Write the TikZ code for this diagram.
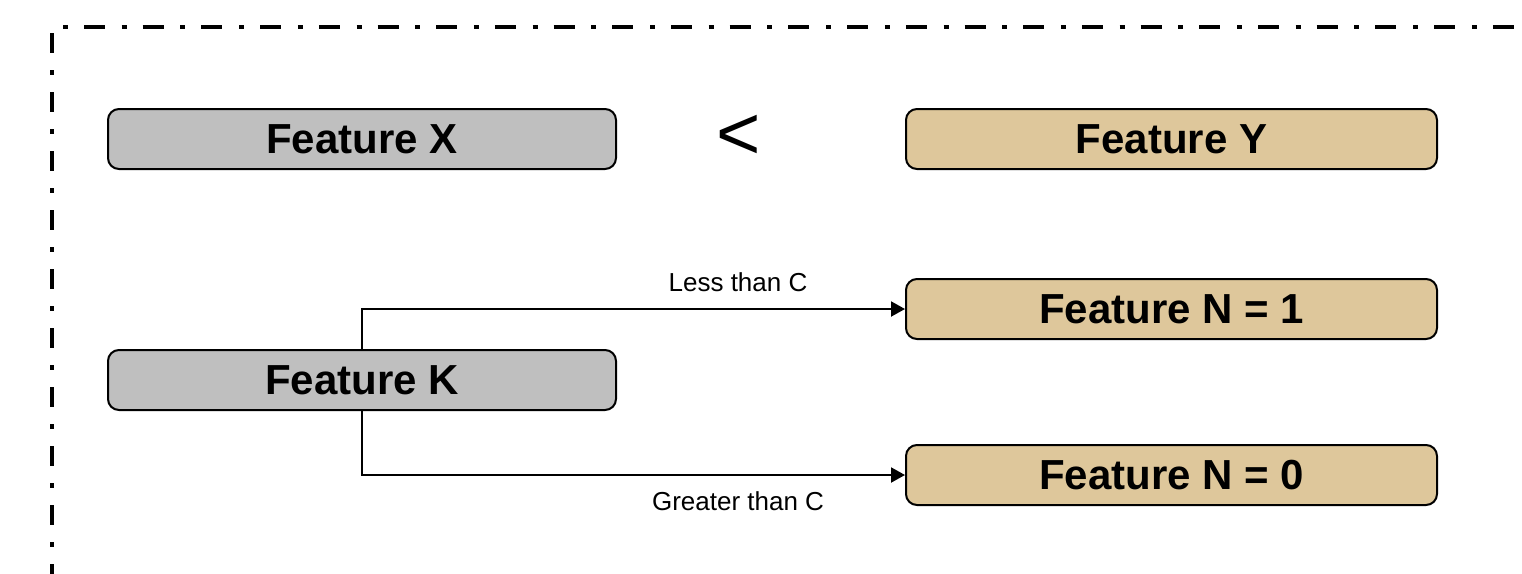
\documentclass[tikz,border=0pt]{standalone}
\usepackage{fontspec}
\setmainfont{Liberation Sans}
\usetikzlibrary{arrows.meta}
\definecolor{boxgray}{RGB}{191,191,191}
\definecolor{boxtan}{RGB}{222,199,155}
\begin{document}
\begin{tikzpicture}[x=1pt,y=-1pt,
  featbox/.style={draw=black, line width=2pt, rounded corners=11pt,
    minimum height=60pt, inner sep=0pt, text depth=-2pt,
    font=\fontsize{42}{48}\selectfont\bfseries},
  graybox/.style={featbox, fill=boxgray, minimum width=508pt},
  tanbox/.style={featbox, fill=boxtan, minimum width=531pt},
  link/.style={draw=black, line width=2pt,
    -{Triangle[length=14pt,width=15pt]}},
  edgelabel/.style={font=\fontsize{26}{30}\selectfont, inner sep=0pt},
  frameline/.style={draw=black, line width=4pt, line cap=butt}]
\useasboundingbox (0,0) rectangle (1522,573);

% dash-dot frame
\draw[frameline, dash pattern=on 5pt off 16pt on 21pt off 16.7pt] (63,27) -- (1530,27);
\draw[frameline, dash pattern=on 20pt off 17pt on 5pt off 17pt] (52,33) -- (52,580);

% feature boxes
\node[graybox] (fx) at (362,139) {Feature X};
\node[tanbox]  (fy) at (1171.5,139) {Feature Y};
\node[font=\fontsize{76}{80}\selectfont, inner sep=0pt] (lt) at (739,137) {<};

\node[graybox] (fk) at (362,380) {Feature K};
\node[tanbox]  (n1) at (1171.5,309) {Feature N = 1};
\node[tanbox]  (n0) at (1171.5,475) {Feature N = 0};

% split connectors
\draw[link] (fk.north) |- (n1.west);
\draw[link] (fk.south) |- (n0.west);

\node[edgelabel] (lless) at (738,282) {Less than C};
\node[edgelabel] (lgreat) at (738,501) {Greater than C};
\end{tikzpicture}
\end{document}
